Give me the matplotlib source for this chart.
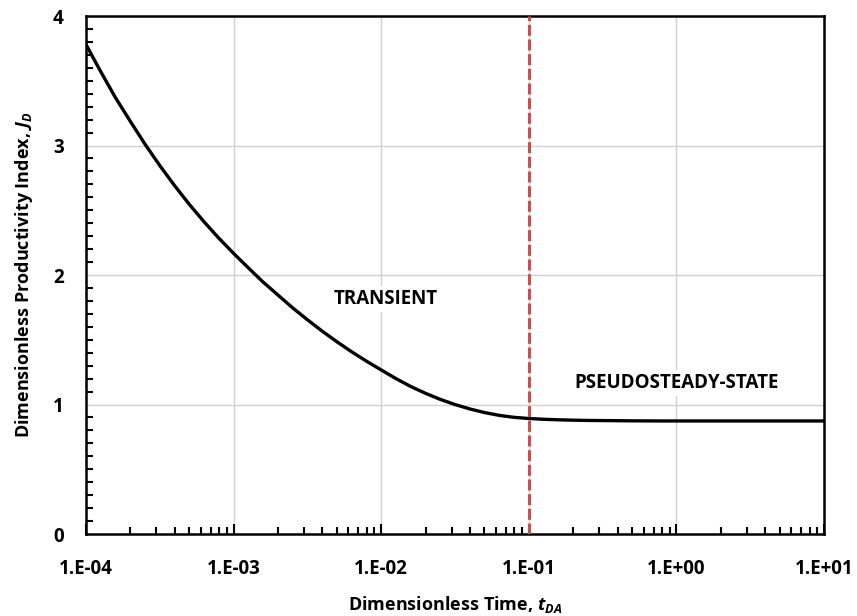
import matplotlib
matplotlib.use('Agg')
import matplotlib.pyplot as plt
from matplotlib.ticker import FixedLocator, MultipleLocator, LogLocator, NullFormatter

# curve (dimensionless time vs productivity index)
t_da = [1.0e-4, 1.26e-4, 1.58e-4, 2.0e-4, 2.51e-4, 3.16e-4, 3.98e-4, 5.01e-4, 6.31e-4, 7.94e-4,
        1.0e-3, 1.26e-3, 1.58e-3, 2.0e-3, 2.51e-3, 3.16e-3, 3.98e-3, 5.01e-3, 6.31e-3, 7.94e-3,
        1.0e-2, 1.26e-2, 1.58e-2, 2.0e-2, 2.51e-2, 3.16e-2, 3.98e-2, 5.01e-2, 6.31e-2, 7.94e-2,
        1.0e-1, 1.26e-1, 1.58e-1, 2.0e-1, 2.51e-1, 3.16e-1, 3.98e-1, 5.01e-1, 6.31e-1, 7.94e-1,
        1.0, 3.16, 10.0]
j_d = [3.780, 3.570, 3.372, 3.186, 3.011, 2.846, 2.691, 2.546, 2.411, 2.285,
       2.167, 2.055, 1.947, 1.845, 1.747, 1.655, 1.567, 1.485, 1.407, 1.335,
       1.267, 1.200, 1.140, 1.086, 1.040, 1.000, 0.966, 0.938, 0.916, 0.901,
       0.892, 0.886, 0.882, 0.879, 0.877, 0.876, 0.875, 0.874, 0.8735, 0.873,
       0.873, 0.873, 0.873]
t_pss = 0.1
x_ticks = [1e-4, 1e-3, 1e-2, 1e-1, 1e0, 1e1]
x_labels = ['1.E-04', '1.E-03', '1.E-02', '1.E-01', '1.E+00', '1.E+01']
y_ticks = [0, 1, 2, 3, 4]

plt.rcParams['font.family'] = ['Open Sans', 'DejaVu Sans']
plt.rcParams['font.weight'] = 'bold'
plt.rcParams['mathtext.fontset'] = 'custom'
plt.rcParams['mathtext.rm'] = 'Open Sans:bold'
plt.rcParams['mathtext.it'] = 'Open Sans:bold:italic'

fig = plt.figure(figsize=(8.57, 6.16), dpi=100)
ax = fig.add_axes([0.1003, 0.1331, 0.8612, 0.8409])

ax.plot(t_da, j_d, color='black', lw=2.4, zorder=4)
ax.axvline(t_pss, color='#cc4f4f', lw=2.2, dashes=(3.6, 1.2), zorder=5)

ax.set_xscale('log')
ax.set_xlim(1e-4, 1e1)
ax.set_ylim(0, 4)

ax.xaxis.set_major_locator(FixedLocator(x_ticks))
ax.set_xticklabels(x_labels)
ax.xaxis.set_minor_locator(LogLocator(base=10, subs=range(2, 10), numticks=20))
ax.xaxis.set_minor_formatter(NullFormatter())
ax.set_yticks(y_ticks)
ax.yaxis.set_minor_locator(MultipleLocator(0.1))

ax.tick_params(which='both', direction='in', top=False, right=False,
               labelsize=13.5, width=1.5)
ax.tick_params(which='major', length=7)
ax.tick_params(which='minor', length=5)
ax.tick_params(axis='x', which='major', pad=18)
ax.tick_params(axis='y', which='major', length=0, pad=16)

ax.grid(True, which='major', color='#d0d0d0', lw=1.0)
ax.set_axisbelow(True)
for s in ax.spines.values():
    s.set_linewidth(1.8)
    s.set_color('black')

ax.text(0.0108, 1.815, 'TRANSIENT', ha='center', va='center', fontsize=13.5,
        fontweight='bold', zorder=6,
        bbox=dict(facecolor='white', edgecolor='none', pad=2))
ax.text(1.01, 1.166, 'PSEUDOSTEADY-STATE', ha='center', va='center', fontsize=13.5,
        fontweight='bold', zorder=6,
        bbox=dict(facecolor='white', edgecolor='none', pad=2))

ax.set_xlabel('Dimensionless Time, $t_{DA}$', fontsize=13, fontweight='bold', labelpad=11)
ax.set_ylabel('Dimensionless Productivity Index, $J_D$', fontsize=13, fontweight='bold', labelpad=13)

fig.savefig('out.png', dpi=100)
